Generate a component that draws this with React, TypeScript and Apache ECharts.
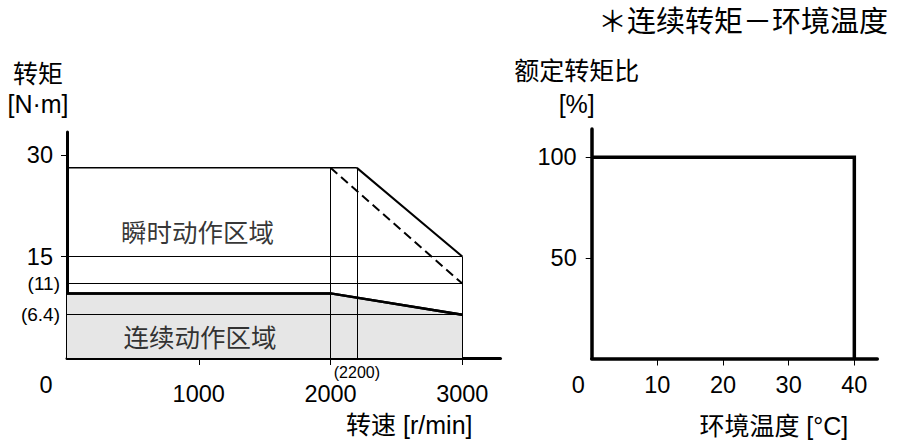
import React, { useEffect, useRef } from 'react';
import * as echarts from 'echarts';

const FONT = '"Liberation Sans", Arial, "Noto Sans CJK SC", sans-serif';

// ---- left chart: torque vs speed ----
const speedLabelValues = [0, 1000, 2000, 2200, 3000];
const speedTickValues = [1000, 2000, 3000];
const torqueMainTicks = [30, 15];
const torqueRefTicks = [11, 6.4];
const continuousSpeed = [0, 2000, 3000];
const continuousTorque = [9.55, 9.55, 6.4];
const peakSpeed = [0, 2200];
const peakTorque = [28.1, 28.1];
const peakDropSpeed = [2200, 3000];
const peakDropTorque = [28.1, 15];
const peakAltSpeed = [2000, 3000];
const peakAltTorque = [28.1, 11];
const guideHorizontal = [15, 11, 6.4];
const guideVerticalSpeed = [2000, 2200, 3000];
const guideVerticalTop = [28.1, 28.1, 15];
const regionNames = ['瞬时动作区域', '连续动作区域'];
const regionSpeed = [990, 1010];
const regionTorque = [18.4, 3];

// ---- right chart: rated torque ratio vs ambient temperature ----
const tempLabelValues = [0, 10, 20, 30, 40];
const tempTickValues = [10, 20, 30, 40];
const ratioTicks = [100, 50];
const derateTemp = [0, 40, 40];
const derateRatio = [100, 100, 0];

const zip = (xs: number[], ys: number[]) => xs.map((x, i) => [x, ys[i]]);

export default function App() {
  const ref = useRef<HTMLDivElement>(null);
  useEffect(() => {
    if (!ref.current) return;
    const chart = echarts.init(ref.current, null, { renderer: 'svg' });
    const black = '#000';
    const NUM = 23.5;
    const guideData = [
      ...guideHorizontal.map((t) => ({ coords: [[0, t], [3000, t]] })),
      ...guideVerticalSpeed.map((s, i) => ({ coords: [[s, 0], [s, guideVerticalTop[i]]] })),
    ];
    const xName = {
      fontSize: 25,
      lineHeight: 26,
      align: 'right',
      verticalAlign: 'top',
      padding: [54, 0, 0, 0],
      color: black,
      fontFamily: FONT,
    };
    chart.setOption({
      animation: false,
      backgroundColor: '#fff',
      textStyle: { fontFamily: FONT, color: black },
      title: {
        text: '＊连续转矩－环境温度',
        right: 9,
        top: 7,
        padding: 0,
        textStyle: { fontFamily: FONT, fontSize: 29, fontWeight: 'normal', color: black },
      },
      grid: [
        { left: 67, top: 132, width: 433.5, height: 226, outerBoundsMode: 'none', containLabel: false },
        { left: 591.7, top: 129, width: 285.6, height: 229.5, outerBoundsMode: 'none', containLabel: false },
      ],
      xAxis: [
        {
          gridIndex: 0,
          type: 'value',
          min: 0,
          max: 3290,
          splitLine: { show: false },
          axisLine: { show: true, lineStyle: { color: black, width: 3 } },
          axisTick: { show: true, length: 7, lineStyle: { color: black, width: 1 }, customValues: speedTickValues },
          axisLabel: {
            customValues: speedLabelValues,
            margin: 6,
            color: black,
            hideOverlap: false,
            formatter: (v: number) =>
              v === 0 ? '{z|0}' : v === 2200 ? '{s|(2200)}' : `{n|${v}}`,
            rich: {
              z: { fontSize: NUM, lineHeight: 22, padding: [20, 42, 0, 0], fontFamily: FONT, color: black },
              n: { fontSize: NUM, lineHeight: 22, padding: [38, 0, 0, 0], fontFamily: FONT, color: black },
              s: { fontSize: 16, lineHeight: 16, padding: [1, 0, 0, 0], fontFamily: FONT, color: black },
            },
          },
          name: '转速 [r/min]',
          nameLocation: 'end',
          nameGap: -28,
          nameMoveOverlap: false,
          nameTextStyle: xName,
        },
        {
          gridIndex: 1,
          type: 'value',
          min: 0,
          max: 43.5,
          splitLine: { show: false },
          axisLine: { show: true, lineStyle: { color: black, width: 3.5 } },
          axisTick: { show: true, length: 7, lineStyle: { color: black, width: 1 }, customValues: tempTickValues },
          axisLabel: {
            customValues: tempLabelValues,
            margin: 15,
            color: black,
            hideOverlap: false,
            formatter: (v: number) => (v === 0 ? '{z|0}' : `{n|${v}}`),
            rich: {
              z: { fontSize: NUM, lineHeight: 22, padding: [0, 27, 0, 0], fontFamily: FONT, color: black },
              n: { fontSize: NUM, lineHeight: 22, fontFamily: FONT, color: black },
            },
          },
          name: '环境温度 [°C]',
          nameLocation: 'end',
          nameGap: -29,
          nameMoveOverlap: false,
          nameTextStyle: xName,
        },
      ],
      yAxis: [
        {
          gridIndex: 0,
          type: 'value',
          min: 0,
          max: 33.4,
          splitLine: { show: false },
          axisLine: { show: true, lineStyle: { color: black, width: 3 } },
          axisTick: { show: true, length: 6, lineStyle: { color: black, width: 1 }, customValues: torqueMainTicks },
          axisLabel: {
            customValues: [...torqueMainTicks, ...torqueRefTicks],
            margin: 7,
            color: black,
            hideOverlap: false,
            formatter: (v: number) => (torqueMainTicks.includes(v) ? `{b|${v}}` : `{s|(${v})}`),
            rich: {
              b: { fontSize: NUM, padding: [0, 7, 0, 0], fontFamily: FONT, color: black },
              s: { fontSize: 19, fontFamily: FONT, color: black },
            },
          },
          name: '转矩\n[N·m]',
          nameLocation: 'end',
          nameGap: 13,
          nameMoveOverlap: false,
          nameTextStyle: {
            fontSize: 25,
            lineHeight: 30,
            align: 'center',
            padding: [0, 58, 0, 0],
            color: black,
            fontFamily: FONT,
          },
        },
        {
          gridIndex: 1,
          type: 'value',
          min: 0,
          max: 114,
          splitLine: { show: false },
          axisLine: { show: true, lineStyle: { color: black, width: 3.5 } },
          axisTick: { show: true, length: 6, lineStyle: { color: black, width: 1 }, customValues: ratioTicks },
          axisLabel: {
            customValues: ratioTicks,
            margin: 15,
            color: black,
            fontSize: NUM,
            fontFamily: FONT,
          },
          name: '额定转矩比\n[%]',
          nameLocation: 'end',
          nameGap: 9,
          nameMoveOverlap: false,
          nameTextStyle: {
            fontSize: 25,
            lineHeight: 33,
            align: 'center',
            padding: [0, 30, 0, 0],
            color: black,
            fontFamily: FONT,
          },
        },
      ],
      series: [
        {
          type: 'line',
          xAxisIndex: 0,
          yAxisIndex: 0,
          data: zip(continuousSpeed, continuousTorque),
          symbol: 'none',
          lineStyle: { color: black, width: 2.5 },
          areaStyle: { color: '#e6e6e6', opacity: 1 },
          z: 1,
        },
        {
          type: 'lines',
          coordinateSystem: 'cartesian2d',
          xAxisIndex: 0,
          yAxisIndex: 0,
          data: guideData,
          lineStyle: { color: black, width: 1, opacity: 1 },
          z: 2,
        },
        {
          type: 'line',
          xAxisIndex: 0,
          yAxisIndex: 0,
          data: zip(peakSpeed, peakTorque),
          symbol: 'none',
          lineStyle: { color: black, width: 1.5 },
          z: 3,
        },
        {
          type: 'line',
          xAxisIndex: 0,
          yAxisIndex: 0,
          data: zip(peakDropSpeed, peakDropTorque),
          symbol: 'none',
          lineStyle: { color: black, width: 2 },
          z: 3,
        },
        {
          type: 'line',
          xAxisIndex: 0,
          yAxisIndex: 0,
          data: zip(peakAltSpeed, peakAltTorque),
          symbol: 'none',
          lineStyle: { color: black, width: 2, type: [9, 5] },
          z: 3,
        },
        {
          type: 'line',
          xAxisIndex: 0,
          yAxisIndex: 0,
          data: zip(continuousSpeed, continuousTorque),
          symbol: 'none',
          lineStyle: { color: black, width: 2.5 },
          z: 4,
        },
        {
          type: 'scatter',
          xAxisIndex: 0,
          yAxisIndex: 0,
          symbolSize: 0,
          data: regionNames.map((n, i) => ({ name: n, value: [regionSpeed[i], regionTorque[i]] })),
          label: {
            show: true,
            position: 'inside',
            formatter: '{b}',
            fontSize: 25.5,
            color: black,
            fontFamily: FONT,
          },
          z: 5,
        },
        {
          type: 'line',
          xAxisIndex: 1,
          yAxisIndex: 1,
          data: zip(derateTemp, derateRatio),
          symbol: 'none',
          lineStyle: { color: black, width: 3.5, join: 'miter' },
        },
      ],
    });
    return () => chart.dispose();
  }, []);
  return (
    <div
      ref={ref}
      style={{ position: 'fixed', left: 0, top: 0, width: 897, height: 443, background: '#fff' }}
    />
  );
}
